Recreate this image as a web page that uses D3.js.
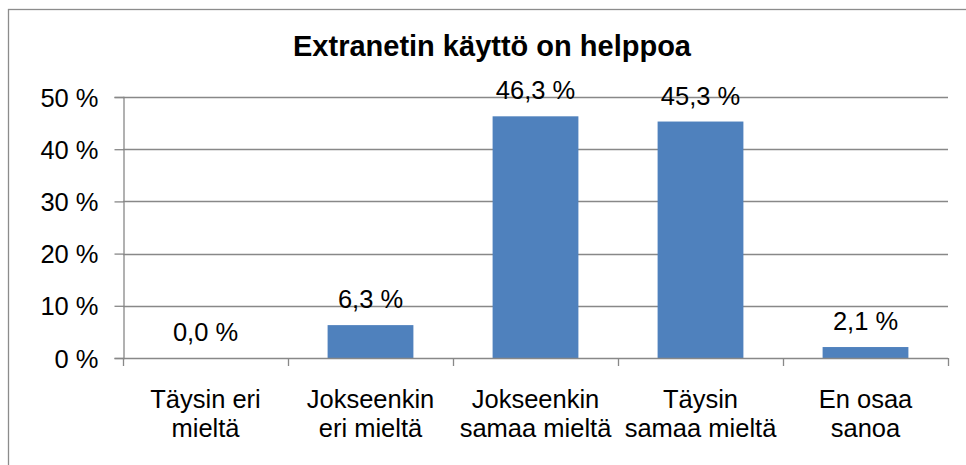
<!DOCTYPE html>
<html>
<head>
<meta charset="utf-8">
<script src="https://cdn.jsdelivr.net/npm/d3@7"></script>
<style>
  html, body { margin: 0; padding: 0; background: #fff; }
  svg { display: block; }
  text { font-family: "Liberation Sans", Arial, sans-serif; fill: #000; }
</style>
</head>
<body>
<svg id="chart" width="966" height="465"></svg>
<script>
// Survey answers: "Extranetin käyttö on helppoa"
const categories = [
  ["Täysin eri", "mieltä"],
  ["Jokseenkin", "eri mieltä"],
  ["Jokseenkin", "samaa mieltä"],
  ["Täysin", "samaa mieltä"],
  ["En osaa", "sanoa"]
];
const values = [0.0, 6.3, 46.3, 45.3, 2.1];
const yTicks = [0, 10, 20, 30, 40, 50];
const title = "Extranetin käyttö on helppoa";

const fmtValue = v => v.toFixed(1).replace(".", ",") + " %";
const fmtTick = v => v + " %";

const svg = d3.select("#chart");
const W = 966, H = 465;
const plot = { left: 123, right: 948, top: 97, bottom: 358 };
const fontSize = "25.5px";

// Outer chart frame
svg.append("rect")
  .attr("x", 8.5).attr("y", 9.5)
  .attr("width", W + 20).attr("height", H + 20)
  .attr("fill", "#fff").attr("stroke", "#8c8c8c").attr("stroke-width", 1.3);

const keys = categories.map((c, i) => i);
const x = d3.scaleBand().domain(keys)
  .range([plot.left, plot.right])
  .paddingInner(0.48).paddingOuter(0.24);
const xBounds = d3.scaleLinear().domain([0, categories.length]).range([plot.left, plot.right]);
const y = d3.scaleLinear().domain([0, 50]).range([plot.bottom, plot.top]);

// Horizontal gridlines
svg.append("g").selectAll("line").data(yTicks.filter(t => t > 0)).join("line")
  .attr("x1", plot.left).attr("x2", plot.right)
  .attr("y1", d => Math.round(y(d)) + 0.5).attr("y2", d => Math.round(y(d)) + 0.5)
  .attr("stroke", "#888").attr("stroke-width", 1.3);

// Y axis
const yAxis = svg.append("g").attr("transform", `translate(${plot.left + 0.5},0)`)
  .call(d3.axisLeft(y).tickValues(yTicks).tickFormat(fmtTick).tickSize(9).tickPadding(16));
yAxis.select(".domain").attr("stroke", "#888").attr("stroke-width", 1.3);
yAxis.selectAll(".tick line").attr("stroke", "#888").attr("stroke-width", 1.3);
yAxis.selectAll(".tick text")
  .style("font-size", fontSize)
  .attr("fill", "#000")
  .attr("dy", "0.36em");

// Bars
svg.append("g").selectAll("rect").data(values).join("rect")
  .attr("x", (d, i) => x(i))
  .attr("width", x.bandwidth())
  .attr("y", d => y(d))
  .attr("height", d => y(0) - y(d))
  .attr("fill", "#4F81BD");

// X axis baseline and category boundary ticks
const xg = svg.append("g");
xg.append("line")
  .attr("x1", plot.left).attr("x2", plot.right)
  .attr("y1", plot.bottom + 0.5).attr("y2", plot.bottom + 0.5)
  .attr("stroke", "#888").attr("stroke-width", 1.3);
xg.selectAll("line.tick").data(d3.range(categories.length + 1)).join("line")
  .attr("class", "tick")
  .attr("x1", d => Math.round(xBounds(d)) + 0.5).attr("x2", d => Math.round(xBounds(d)) + 0.5)
  .attr("y1", plot.bottom).attr("y2", plot.bottom + 8)
  .attr("stroke", "#888").attr("stroke-width", 1.3);

// Category labels (two lines each)
const cat = svg.append("g").selectAll("text").data(categories).join("text")
  .attr("text-anchor", "middle")
  .style("font-size", fontSize);
cat.selectAll("tspan").data((d, i) => d.map(line => ({ line, i }))).join("tspan")
  .attr("x", d => x(d.i) + x.bandwidth() / 2)
  .attr("y", (d, j) => 408 + j * 29)
  .text(d => d.line);

// Value labels
svg.append("g").selectAll("text").data(values).join("text")
  .attr("x", (d, i) => x(i) + x.bandwidth() / 2)
  .attr("y", d => y(d) - 17)
  .attr("text-anchor", "middle")
  .style("font-size", fontSize)
  .text(fmtValue);

// Title
svg.append("text")
  .attr("x", 492).attr("y", 56)
  .attr("text-anchor", "middle")
  .style("font-size", "29px")
  .style("font-weight", "bold")
  .text(title);
</script>
</body>
</html>
